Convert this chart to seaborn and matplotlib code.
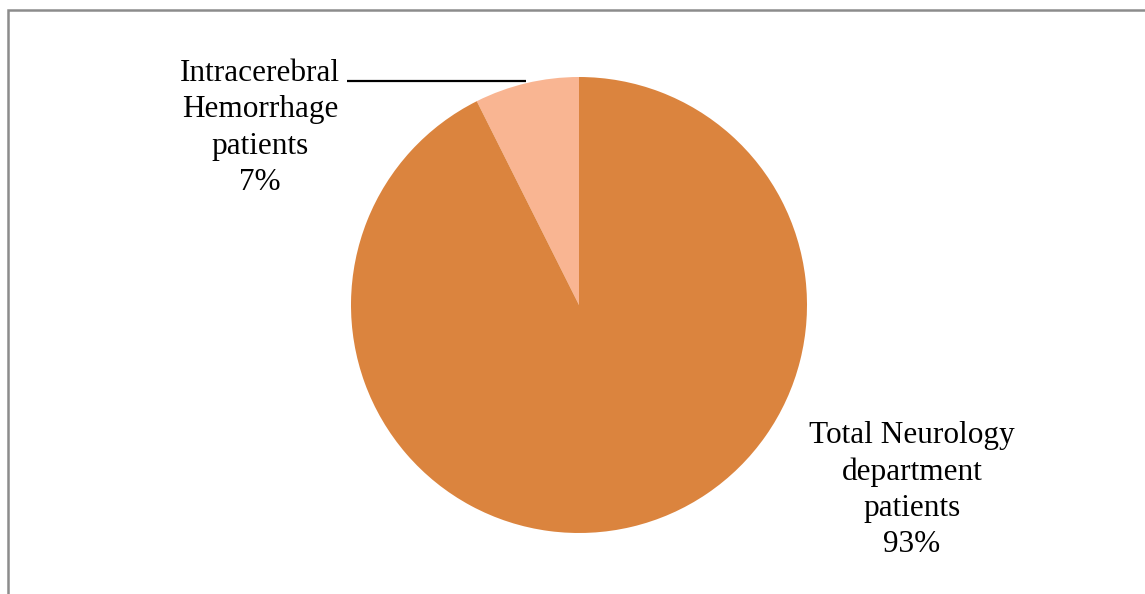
import matplotlib
matplotlib.use("Agg")
import matplotlib.pyplot as plt
import seaborn as sns
from matplotlib.patches import Rectangle

# Data
categories = ["Intracerebral\nHemorrhage\npatients", "Total Neurology\ndepartment\npatients"]
values = [7.4, 92.6]
pct_labels = ["7%", "93%"]
colors = ["#F9B592", "#DB843E"]

sns.set_theme(style="white")
plt.rcParams['font.family'] = ['Liberation Serif', 'DejaVu Serif']

W, H = 1145, 594
fig = plt.figure(figsize=(W / 100, H / 100), dpi=100)
ax = fig.add_axes([0, 0, 1, 1])

palette = sns.color_palette(colors)
cx, cy, r = 579, H - 305, 228
ax.pie(values, colors=palette, startangle=90, counterclock=True,
       center=(cx, cy), radius=r, frame=True,
       wedgeprops=dict(linewidth=0))
ax.set_xlim(0, W)
ax.set_ylim(0, H)
ax.set_aspect('equal')
ax.axis('off')

# Labels
ax.text(260, H - 128, categories[0] + "\n" + pct_labels[0], ha='center', va='center',
        multialignment='center', fontsize=22.5, color='black', linespacing=1.33)
ax.text(912, H - 490, categories[1] + "\n" + pct_labels[1], ha='center', va='center',
        multialignment='center', fontsize=22.5, color='black', linespacing=1.33)

# Leader line
ax.plot([347, 526], [H - 81, H - 81], color='black', linewidth=1.6, solid_capstyle='butt')

# Chart frame
ax.add_patch(Rectangle((8, -40), 1300, H - 10 + 40, fill=False,
                       edgecolor='#8C8C8C', linewidth=1.8, clip_on=True))

fig.savefig("out.png", dpi=100)
